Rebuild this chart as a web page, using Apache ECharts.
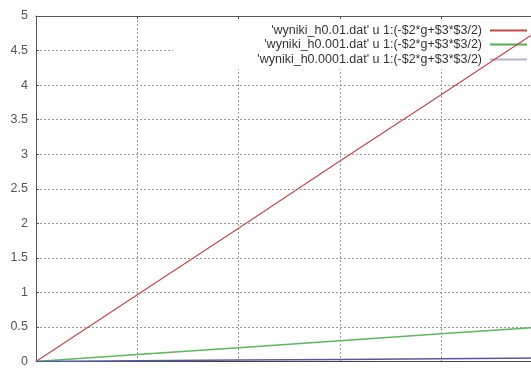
<!DOCTYPE html>
<html>
<head>
<meta charset="utf-8">
<script src="https://cdn.jsdelivr.net/npm/echarts@6/dist/echarts.min.js"></script>
<style>html,body{margin:0;padding:0;background:#fff;overflow:hidden}#c{width:560px;height:368px}</style>
</head>
<body>
<div id="c"></div>
<script>
const xValues = [0, 1, 2, 3, 4, 5];
const redValues = [0, 0.965, 1.93, 2.9, 3.86, 4.83];
const greenValues = [0, 0.1, 0.2, 0.3, 0.4, 0.5];
const blueValues = [0, 0.01, 0.02, 0.03, 0.04, 0.05];
const seriesNames = [
  "'wyniki_h0.01.dat' u 1:(-$2*g+$3*$3/2)",
  "'wyniki_h0.001.dat' u 1:(-$2*g+$3*$3/2)",
  "'wyniki_h0.0001.dat' u 1:(-$2*g+$3*$3/2)"
];
const seriesValues = [redValues, greenValues, blueValues];
const seriesColors = ['#c84848', '#5cb85c', '#5858a8'];
const legendColors = ['#c84848', '#4cb04c', '#b4b4cc'];
const legendTops = [24, 38, 53];

const chart = echarts.init(document.getElementById('c'), null, {renderer: 'canvas'});
const font = 'Liberation Sans, Arial, sans-serif';
chart.setOption({
  animation: false,
  backgroundColor: '#fff',
  grid: {left: 36, top: 16, right: 17.5, bottom: 2, show: false},
  xAxis: [{
    type: 'value', min: 0, max: 5, interval: 1, position: 'bottom',
    axisLine: {show: true, lineStyle: {color: '#444', width: 1}},
    axisTick: {show: false}, axisLabel: {show: false},
    splitLine: {show: true, lineStyle: {color: '#999', type: [2, 2], width: 1}}
  }, {
    type: 'value', min: 0, max: 5, interval: 1, position: 'top', z: 3,
    axisLine: {show: true, lineStyle: {color: '#555', width: 1}},
    axisTick: {show: true, inside: true, length: 3, lineStyle: {color: '#555'}},
    axisLabel: {show: false}, splitLine: {show: false}
  }],
  yAxis: {
    type: 'value', min: 0, max: 5, interval: 0.5,
    axisLine: {show: true, lineStyle: {color: '#555', width: 1}},
    axisTick: {show: true, inside: true, length: 3, lineStyle: {color: '#555'}},
    axisLabel: {color: '#555', fontSize: 12.5, fontFamily: font, margin: 8},
    splitLine: {show: true, lineStyle: {color: '#999', type: [2, 2], width: 1}}
  },
  graphic: {
    z: 1,
    elements: [{type: 'rect', z: 1, silent: true, left: 173, top: 17, shape: {width: 400, height: 52}, style: {fill: '#fff'}}]
  },
  legend: seriesNames.map((n, i) => ({
    data: [{name: n, itemStyle: {color: legendColors[i]}}],
    orient: 'vertical', right: 33, top: legendTops[i], padding: 0,
    itemWidth: 37, itemHeight: 2, icon: 'rect', align: 'right', selectedMode: false, z: 4,
    textStyle: {fontSize: 12.5, color: '#333', fontFamily: font, padding: [0, 3, 0, 0]}
  })),
  series: seriesNames.map((n, i) => ({
    name: n, type: 'line', symbol: 'none', z: 5,
    data: xValues.map((x, j) => [x, seriesValues[i][j]]),
    lineStyle: {color: seriesColors[i], width: i === 0 ? 1.2 : 1.5},
    itemStyle: {color: seriesColors[i]}
  }))
});
</script>
</body>
</html>
